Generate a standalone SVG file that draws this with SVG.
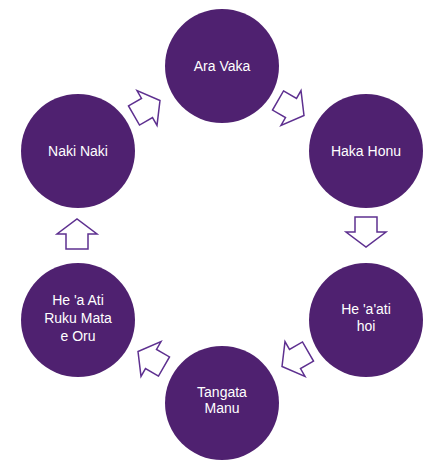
<svg xmlns="http://www.w3.org/2000/svg" width="446" height="464" viewBox="0 0 446 464">
<style>
.n{fill:#4f2170}
.t{fill:#ffffff;font-family:"Liberation Sans",Arial,sans-serif;font-size:14px;text-anchor:middle}
.a{fill:#ffffff;stroke:#5e3090;stroke-width:1.5;stroke-linejoin:miter}
</style>
<defs>
<path id="arr" d="M -15,-11 L 0,-11 L 0,-20 L 15,0 L 0,20 L 0,11 L -15,11 Z"/>
</defs>
<g id="connectors">
<use href="#arr" class="a" transform="translate(147,108) rotate(-30)"/>
<use href="#arr" class="a" transform="translate(291,108) rotate(30)"/>
<use href="#arr" class="a" transform="translate(366,232) rotate(90)"/>
<use href="#arr" class="a" transform="translate(295,359) rotate(150)"/>
<use href="#arr" class="a" transform="translate(151,359) rotate(210)"/>
<use href="#arr" class="a" transform="translate(77,234) rotate(-90)"/>
</g>
<g id="ara-vaka"><circle class="n" cx="222" cy="66" r="57"/><text class="t" x="222" y="71">Ara Vaka</text></g>
<g id="haka-honu"><circle class="n" cx="366" cy="151" r="57"/><text class="t" x="366" y="156">Haka Honu</text></g>
<g id="he-aati-hoi"><circle class="n" cx="366" cy="320" r="57"/><text class="t" x="366" y="314">He 'a'ati</text><text class="t" x="366" y="331">hoi</text></g>
<g id="tangata-manu"><circle class="n" cx="222" cy="403" r="57"/><text class="t" x="222" y="397">Tangata</text><text class="t" x="222" y="413">Manu</text></g>
<g id="he-a-ati"><circle class="n" cx="78" cy="320" r="57"/><text class="t" x="78" y="305">He 'a Ati</text><text class="t" x="78" y="323">Ruku Mata</text><text class="t" x="78" y="341">e Oru</text></g>
<g id="naki-naki"><circle class="n" cx="78" cy="151" r="57"/><text class="t" x="78" y="156">Naki Naki</text></g>
</svg>
